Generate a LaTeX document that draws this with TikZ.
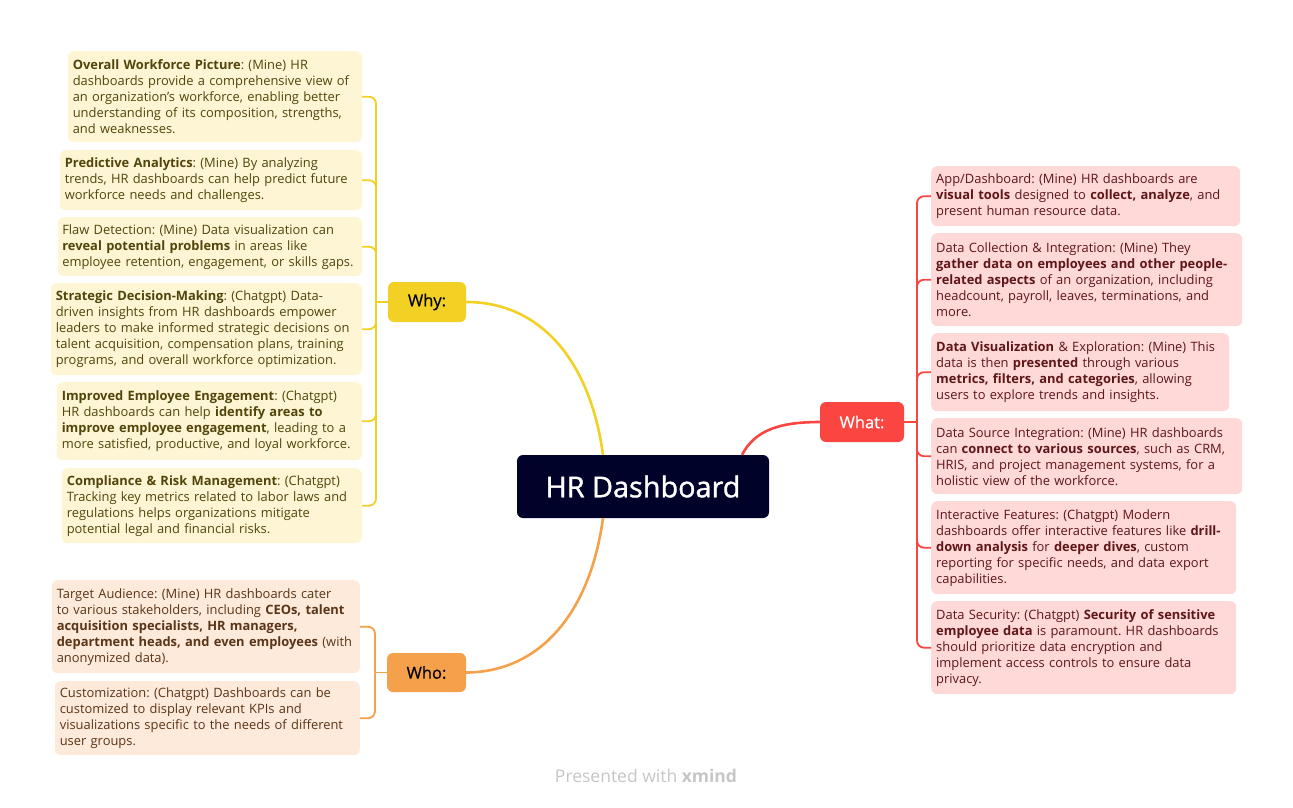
\documentclass[tikz,border=0pt]{standalone}
\usepackage{fontspec}
\setmainfont{Open Sans}
\newfontfamily\medfont[FakeBold=1.2]{Open Sans}
\newfontfamily\lblfont[FakeBold=0.5]{Open Sans}
\definecolor{yfill}{HTML}{FDF5D3}
\definecolor{ytext}{HTML}{52450C}
\definecolor{yline}{HTML}{F2D024}
\definecolor{ofill}{HTML}{FDEADB}
\definecolor{otext}{HTML}{5A3517}
\definecolor{oline}{HTML}{F5A04B}
\definecolor{rfill}{HTML}{FFD8D8}
\definecolor{rtext}{HTML}{5E1618}
\definecolor{rline}{HTML}{FA4541}
\definecolor{navy}{HTML}{00022A}
\definecolor{foot}{HTML}{C6C6C6}
\newcommand\bodyfont{\fontsize{12.9}{16}\selectfont}
\frenchspacing
\tikzset{
  leaf/.style={rounded corners=6pt, inner xsep=5pt, inner ysep=0pt, align=left, font=\bodyfont},
  yleaf/.style={leaf, fill=yfill, text=ytext, anchor=north east},
  oleaf/.style={leaf, fill=ofill, text=otext, anchor=north east},
  rleaf/.style={leaf, fill=rfill, text=rtext, anchor=north west},
  mainbranch/.style={rounded corners=6pt, minimum width=78pt, minimum height=40pt, inner sep=0pt, font=\lblfont\fontsize{16.5}{18}\selectfont},
  maincon/.style={line width=2.6pt},
  subcon/.style={line width=1.8pt, rounded corners=7pt},
}
\begin{document}
\begin{tikzpicture}[x=1pt,y=-1pt]
\useasboundingbox (0,0) rectangle (1293,807);

% central topic
\node[fill=navy, text=white, rounded corners=6pt, minimum width=252pt, minimum height=63pt, inner sep=0pt,
      font=\medfont\fontsize{28.8}{32}\selectfont] (hr) at (643,486.5) {HR Dashboard};

% main branches
\node[mainbranch, fill=yline, text=black] (why) at (427,302) {Why:};
\node[mainbranch, fill=oline, text=black, minimum width=79pt, minimum height=39pt] (who) at (426.5,672.5) {Who:};
\node[mainbranch, fill=rline, text=white, minimum width=84pt] (what) at (862,422) {What:};

\draw[maincon, yline] ([xshift=-40pt]hr.north) .. controls (590,360) and (540,302) .. (why.east);
\draw[maincon, oline] ([xshift=-40pt]hr.south) .. controls (590,613) and (540,672) .. (who.east);
\draw[maincon, rline] ([xshift=99pt]hr.north) .. controls (755,430) and (780,422) .. (what.west);

% trunk points
\coordinate (ytr) at (376,302);
\coordinate (otr) at (375,672.5);
\coordinate (rtr) at (917,422);

% Why leaves
\node[yleaf, text width=284pt, minimum height=91pt] (y1) at (362,51) {\textbf{Overall Workforce Picture}: (Mine) HR\\ dashboards provide a comprehensive view of\\ an organization’s workforce, enabling better\\ understanding of its composition, strengths,\\ and weaknesses.};
\node[yleaf, text width=292pt, minimum height=60pt] (y2) at (362,150) {\textbf{Predictive Analytics}: (Mine) By analyzing\\ trends, HR dashboards can help predict future\\ workforce needs and challenges.};
\node[yleaf, text width=295pt, inner xsep=4.5pt, minimum height=59pt] (y3) at (362,217) {Flaw Detection: (Mine) Data visualization can\\ \textbf{reveal potential problems} in areas like\\ employee retention, engagement, or skills gaps.};
\node[yleaf, text width=301pt, minimum height=92pt] (y4) at (362,283) {\textbf{Strategic Decision-Making}: (Chatgpt) Data-\\ driven insights from HR dashboards empower\\ leaders to make informed strategic decisions on\\ talent acquisition, compensation plans, training\\ programs, and overall workforce optimization.};
\node[yleaf, text width=295pt, minimum height=78pt] (y5) at (362,382) {\textbf{Improved Employee Engagement}: (Chatgpt)\\ HR dashboards can help \textbf{identify areas to}\\ \textbf{improve employee engagement}, leading to a\\ more satisfied, productive, and loyal workforce.};
\node[yleaf, text width=290pt, minimum height=75pt] (y6) at (362,468) {\textbf{Compliance \& Risk Management}: (Chatgpt)\\ Tracking key metrics related to labor laws and\\ regulations helps organizations mitigate\\ potential legal and financial risks.};

\foreach \n in {y1,y2,y3,y4,y5,y6} \draw[subcon, yline] (ytr) |- (\n.east);
\draw[subcon, yline] (why.west) -- (ytr);

% Who leaves
\node[oleaf, text width=298pt, minimum height=93pt] (o1) at (360,580) {Target Audience: (Mine) HR dashboards cater\\ to various stakeholders, including \textbf{CEOs, talent}\\ \textbf{acquisition specialists, HR managers,}\\ \textbf{department heads, and even employees} (with\\ anonymized data).};
\node[oleaf, text width=295pt, minimum height=74pt] (o2) at (360,681) {Customization: (Chatgpt) Dashboards can be\\ customized to display relevant KPIs and\\ visualizations specific to the needs of different\\ user groups.};

\foreach \n in {o1,o2} \draw[subcon, oline] (otr) |- (\n.east);
\draw[subcon, oline] (who.west) -- (otr);

% What leaves
\node[rleaf, text width=299pt, minimum height=60pt] (r1) at (931,166) {App/Dashboard: (Mine) HR dashboards are\\ \textbf{visual tools} designed to \textbf{collect, analyze}, and\\ present human resource data.};
\node[rleaf, text width=301pt, minimum height=93pt] (r2) at (931,233) {Data Collection \& Integration: (Mine) They\\ \textbf{gather data on employees and other people-}\\ \textbf{related aspects} of an organization, including\\ headcount, payroll, leaves, terminations, and\\ more.};
\node[rleaf, text width=288pt, minimum height=78pt] (r3) at (931,333) {\textbf{Data Visualization} \& Exploration: (Mine) This\\ data is then \textbf{presented} through various\\ \textbf{metrics, filters, and categories}, allowing\\ users to explore trends and insights.};
\node[rleaf, text width=301pt, minimum height=76pt] (r4) at (931,418) {Data Source Integration: (Mine) HR dashboards\\ can \textbf{connect to various sources}, such as CRM,\\ HRIS, and project management systems, for a\\ holistic view of the workforce.};
\node[rleaf, text width=295pt, minimum height=93pt] (r5) at (931,501) {Interactive Features: (Chatgpt) Modern\\ dashboards offer interactive features like \textbf{drill-}\\ \textbf{down analysis} for \textbf{deeper dives}, custom\\ reporting for specific needs, and data export\\ capabilities.};
\node[rleaf, text width=295pt, minimum height=93pt] (r6) at (931,601) {Data Security: (Chatgpt) \textbf{Security of sensitive}\\ \textbf{employee data} is paramount. HR dashboards\\ should prioritize data encryption and\\ implement access controls to ensure data\\ privacy.};

\foreach \n in {r1,r2,r3,r4,r5,r6} \draw[subcon, rline] (rtr) |- (\n.west);
\draw[subcon, rline] (what.east) -- (rtr);

% footer
\node[text=foot, font=\fontsize{17.5}{20}\selectfont] (footer) at (646,776) {Presented with \textbf{xmind}};
\end{tikzpicture}
\end{document}
